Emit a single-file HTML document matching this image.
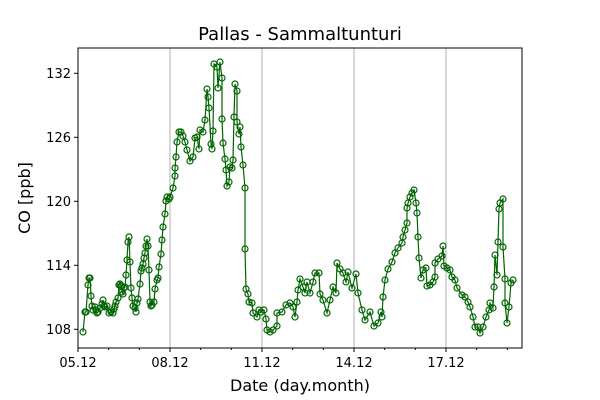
<!DOCTYPE html>
<html><head><meta charset="utf-8"><style>body{margin:0;background:#fff}svg{display:block}</style></head><body>
<svg width="600" height="400" xmlns="http://www.w3.org/2000/svg" font-family="'DejaVu Sans','Liberation Sans',sans-serif">
<defs>
<marker id="c" markerWidth="10" markerHeight="10" refX="5" refY="5" markerUnits="userSpaceOnUse" viewBox="0 0 10 10" overflow="visible">
<circle cx="5" cy="5" r="3" fill="none" stroke="#006400" stroke-width="1.2"/>
</marker>
</defs>
<rect width="600" height="400" fill="#fff"/>
<g stroke="#b0b0b0" stroke-width="1">
<line x1="170" y1="48" x2="170" y2="348"/><line x1="262" y1="48" x2="262" y2="348"/><line x1="354" y1="48" x2="354" y2="348"/><line x1="446" y1="48" x2="446" y2="348"/>
</g>
<polyline fill="none" stroke="#006400" stroke-width="1.2" marker-start="url(#c)" marker-mid="url(#c)" marker-end="url(#c)" points="83,332 85,312 86,312 88,285 89,278 90,278 91,296 92,306 93,310 95,307 96,310 97,313 98,312 100,308 102,304 103,300 104,306 105,307 107,306 109,313 111,312 113,313 114,309 115,306 116,302 118,298 119,285 120,284 121,286 122,292 123,294 124,288 125,287 126,275 127,260 128,242 129,237 130,262 131,288 132,298 133,306 135,308 136,312 137,303 138,299 140,284 141,271 142,268 143,264 144,258 145,253 146,246 147,239 148,246 149,270 150,302 151,306 152,305 154,302 155,289 157,280 158,278 159,267 161,254 162,240 163,227 165,214 166,201 167,197 169,199 170,197 173,188 175,176 175,168 176,157 177,142 179,132 181,132 183,136 185,142 187,150 190,161 193,157 195,138 197,137 199,149 200,130 203,132 205,120 207,89 208,97 209,108 211,144 212,149 213,131 214,64 217,67 218,88 220,62 222,78 222,119 223,143 225,159 226,170 227,186 229,182 230,167 232,168 233,160 234,117 235,84 237,91 237,122 239,134 240,127 241,147 243,165 245,188 245,249 246,289 248,294 249,302 252,303 253,313 257,317 259,310 261,312 264,310 266,319 267,330 270,332 273,330 277,326 277,313 282,312 286,305 290,303 293,307 295,317 297,302 298,290 300,279 303,287 305,293 307,282 310,293 313,282 315,273 319,273 320,294 323,300 327,313 330,300 333,287 336,293 337,263 340,269 343,273 346,282 348,272 352,288 356,274 358,293 362,310 365,320 370,312 374,326 378,323 381,312 382,317 383,297 385,280 388,269 392,262 395,253 398,248 402,243 403,237 405,230 407,223 407,208 408,203 410,197 412,193 414,190 416,203 417,213 418,237 419,258 421,278 423,270 426,268 427,286 430,285 433,282 435,277 435,263 438,259 442,256 443,246 444,266 447,268 450,270 452,277 455,280 457,288 462,295 465,297 468,302 470,307 473,317 475,327 478,327 480,333 483,327 486,317 489,310 490,303 493,308 494,287 495,255 497,275 498,242 499,209 500,203 503,199 503,247 505,279 505,303 507,323 509,307 511,283 513,280"/>
<rect x="78" y="48" width="444" height="300" fill="none" stroke="#000" stroke-width="1"/>
<g stroke="#000" stroke-width="1">
<line x1="74" y1="73.3" x2="78" y2="73.3"/><line x1="74" y1="137.3" x2="78" y2="137.3"/><line x1="74" y1="201.3" x2="78" y2="201.3"/><line x1="74" y1="265.3" x2="78" y2="265.3"/><line x1="74" y1="329.3" x2="78" y2="329.3"/>
<line x1="78" y1="348" x2="78" y2="352"/><line x1="170" y1="348" x2="170" y2="352"/><line x1="262" y1="348" x2="262" y2="352"/><line x1="354" y1="348" x2="354" y2="352"/><line x1="446" y1="348" x2="446" y2="352"/>
<line x1="108.7" y1="348" x2="108.7" y2="350"/><line x1="139.3" y1="348" x2="139.3" y2="350"/><line x1="200.7" y1="348" x2="200.7" y2="350"/><line x1="231.3" y1="348" x2="231.3" y2="350"/><line x1="292.7" y1="348" x2="292.7" y2="350"/><line x1="323.3" y1="348" x2="323.3" y2="350"/><line x1="384.7" y1="348" x2="384.7" y2="350"/><line x1="415.3" y1="348" x2="415.3" y2="350"/><line x1="476.7" y1="348" x2="476.7" y2="350"/><line x1="507.3" y1="348" x2="507.3" y2="350"/>
</g>
<g font-size="13" fill="#000" text-anchor="end">
<text x="71" y="78">132</text><text x="71" y="142">126</text><text x="71" y="206">120</text><text x="71" y="270">114</text><text x="71" y="334">108</text>
</g>
<g font-size="13" fill="#000" text-anchor="middle">
<text x="78" y="367">05.12</text><text x="170" y="367">08.12</text><text x="262" y="367">11.12</text><text x="354" y="367">14.12</text><text x="446" y="367">17.12</text>
</g>
<text x="300" y="391" font-size="16" text-anchor="middle">Date (day.month)</text>
<text x="0" y="0" font-size="16" text-anchor="middle" transform="translate(30,198) rotate(-90)">CO [ppb]</text>
<text x="300" y="40" font-size="18" text-anchor="middle">Pallas - Sammaltunturi</text>
</svg>
</body></html>
